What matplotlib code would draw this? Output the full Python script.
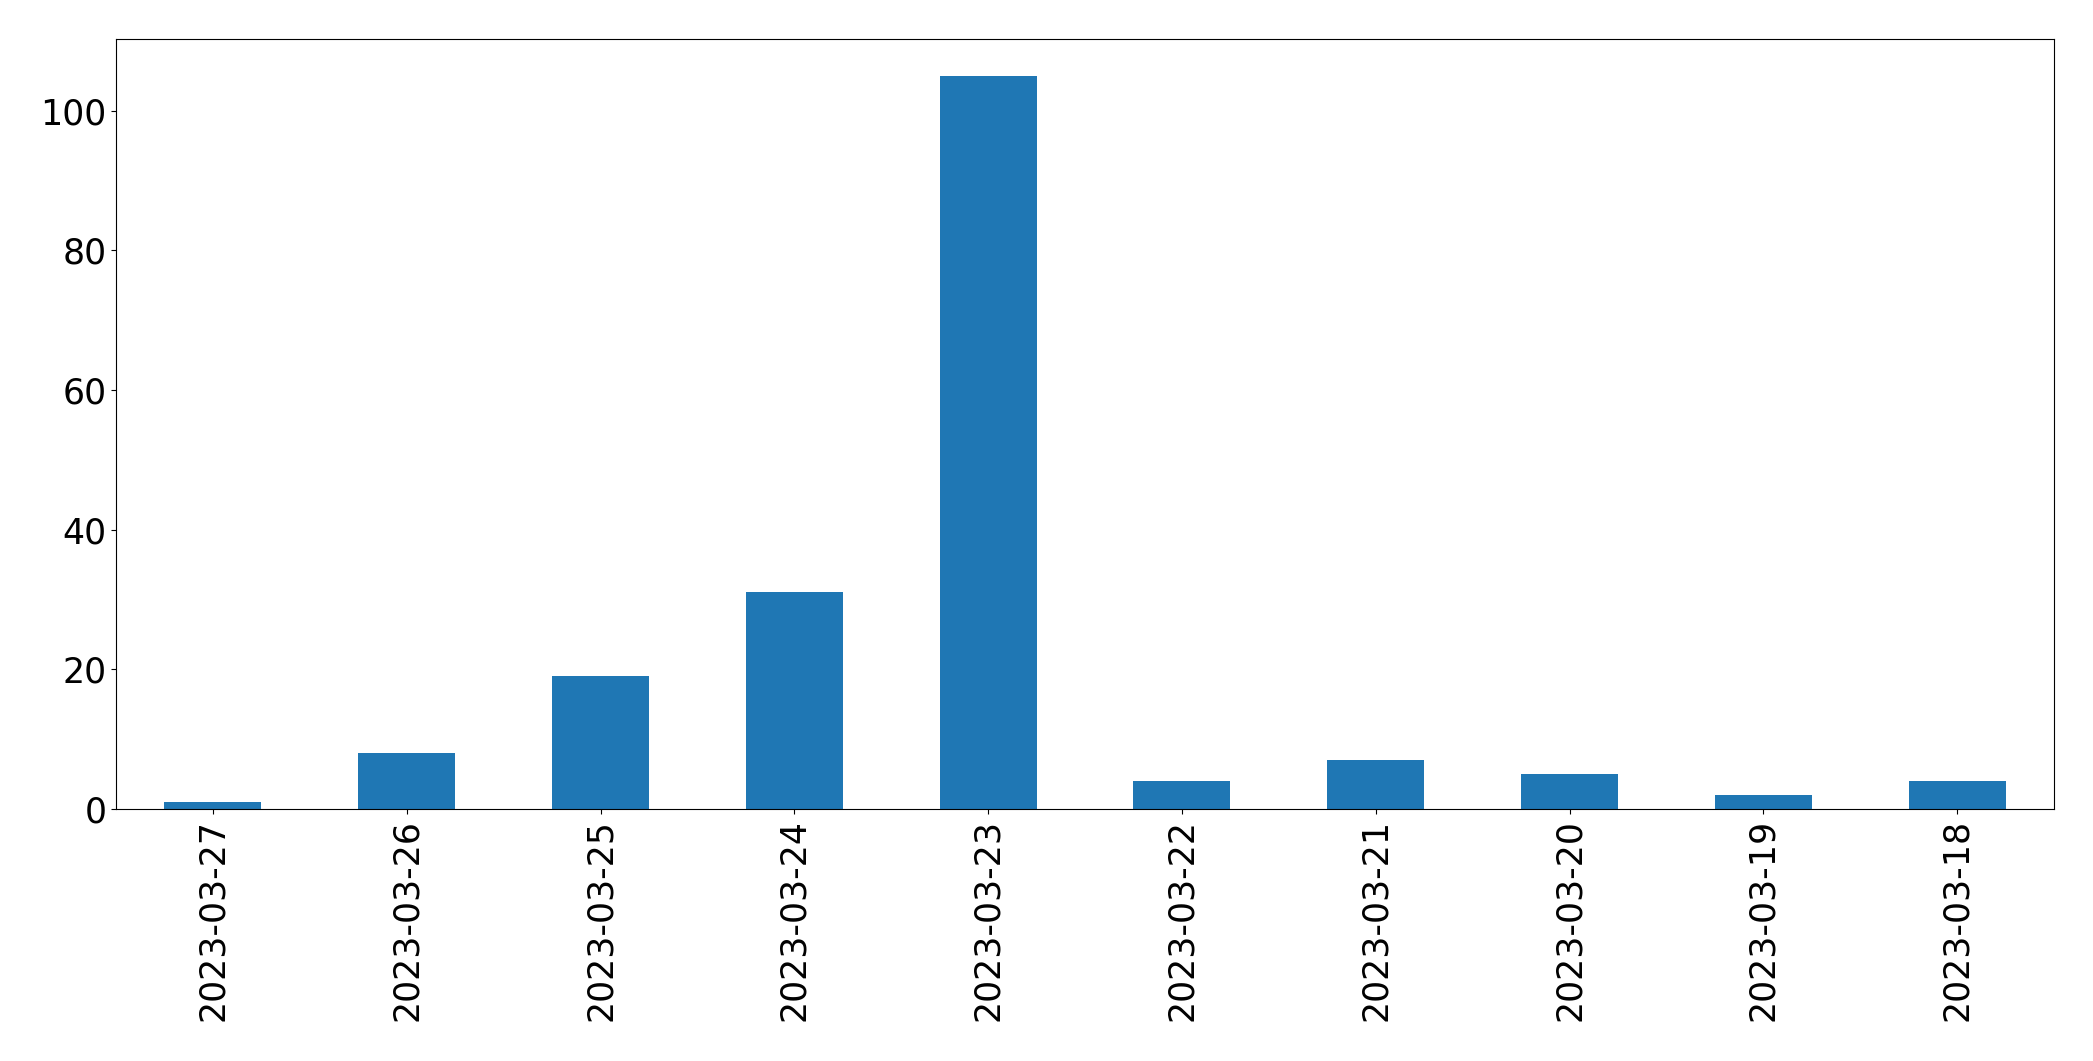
import pandas as pd
import matplotlib.pyplot as plt

# daily counts, newest first (as in the original)
dates = ['2023-03-27', '2023-03-26', '2023-03-25', '2023-03-24', '2023-03-23',
         '2023-03-22', '2023-03-21', '2023-03-20', '2023-03-19', '2023-03-18']
counts = [1, 8, 19, 31, 105, 4, 7, 5, 2, 4]

series = pd.Series(counts, index=dates)

fig = plt.figure(figsize=(20.93, 10.61), dpi=100)
ax = fig.add_axes([116 / 2093, 1 - 809 / 1061, (2054 - 116) / 2093, (809 - 39) / 1061])
series.plot.bar(ax=ax, color='#1f77b4', fontsize=25)
ax.tick_params(axis='both', labelsize=25)

fig.savefig('out.png', dpi=100)
